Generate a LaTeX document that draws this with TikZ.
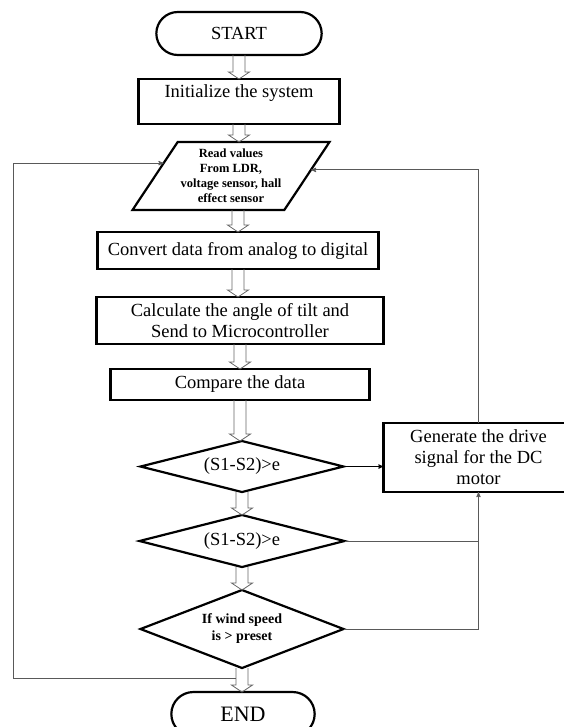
\documentclass[tikz,border=0pt]{standalone}
\usepackage{fontspec}
\setmainfont{Liberation Serif}
\usepackage{tikz}
\usetikzlibrary{arrows,calc,positioning,shapes.geometric,shapes.misc}

\tikzset{
  box/.style={draw, rectangle, line width=2.2pt, outer sep=0pt, align=center,
              font=\fontsize{18.5}{21}\selectfont},
  term/.style={box, rounded rectangle, minimum width=172pt, minimum height=43pt},
  io/.style={draw, trapezium, trapezium left angle=51, trapezium right angle=129,
             trapezium stretches body, line width=2.2pt, outer sep=0pt, minimum width=197pt,
             minimum height=68pt, inner sep=1pt, align=center,
             font=\fontsize{12.5}{15}\selectfont\bfseries},
  test/.style={draw, diamond, line width=2.2pt, outer sep=0pt, inner sep=1pt, align=center,
               font=\fontsize{18.5}{21}\selectfont},
  link/.style={draw=black!65, line width=0.9pt},
  hollow/.style={-, draw=black!60, line width=0.8pt,
    to path={let \p1=(\tikztostart), \p2=(\tikztotarget) in
      (\x1-6pt,\y1) -- (\x1-6pt,\y2+7pt) -- (\x1-10.5pt,\y2+7pt) -- (\x1,\y2)
      -- (\x1+10.5pt,\y2+7pt) -- (\x1+6pt,\y2+7pt) -- (\x1+6pt,\y1)}}
}

\begin{document}
\begin{tikzpicture}[>=stealth']
  \useasboundingbox (0,0) rectangle (563pt,-727pt);

  \node[term]  (start) at (239pt,-33.5pt) {START};
  \node[box, minimum width=201pt, minimum height=45pt, text height=14pt,
        text depth=21pt, inner ysep=5pt] (init) [below=24pt of start] {Initialize the system};
  \node[io]    (read)  [below=18pt of init, xshift=-8pt] {Read values\\From LDR,\\voltage sensor, hall\\effect sensor};
  \node[box, minimum width=281pt, minimum height=37pt] (conv) [below=22pt of read, xshift=7pt] {Convert data from analog to digital};
  \node[box, minimum width=287pt, minimum height=47pt] (tilt) [below=28pt of conv, xshift=2pt] {Calculate the angle of tilt and\\Send to Microcontroller};
  \node[box, minimum width=259pt, minimum height=31pt] (cmp)  [below=25pt of tilt] {Compare the data};
  \node[test, aspect=4, minimum width=203pt, minimum height=51pt] (d1) [below=41pt of cmp, xshift=2pt] {(S1-S2)>e};
  \node[test, aspect=4, minimum width=205pt, minimum height=52pt] (d2) [below=23pt of d1] {(S1-S2)>e};
  \node[test, aspect=2.6, minimum width=203pt, minimum height=78pt,
        font=\fontsize{14}{17}\selectfont\bfseries] (d3) [below=23pt of d2] {If wind speed\\is > preset};
  \node[term, minimum width=150pt, minimum height=44pt,
        font=\fontsize{22}{24}\selectfont] (end) [below=24pt of d3, xshift=1pt] {END};
  \node[box, minimum width=190pt, minimum height=69pt] (gen) [right=40pt of d1, yshift=9pt] {Generate the drive\\signal for the DC\\motor};

  % loop ends
  \coordinate (lin) at ($(read.top left corner)!0.31!(read.bottom left corner)$);
  \coordinate (rin) at ($(read.top right corner)!0.41!(read.bottom right corner)$);
  \coordinate (lp)  at ($(d3.south)+(-6pt,-10pt)$);
  \coordinate (lx)  at (13pt,0);

  \path (start.south)           edge[hollow] (init.north)
        (init.south)            edge[hollow] (read.north)
        (conv.north |- read.south) edge[hollow] (conv.north)
        (conv.south)            edge[hollow] (tilt.north)
        (tilt.south)            edge[hollow] (cmp.north)
        (cmp.south)             edge[hollow] (d1.north)
        (d1.south)              edge[hollow] (d2.north)
        (d2.south)              edge[hollow] (d3.north)
        (d3.south)              edge[hollow] (end.north);

  \draw[->, line width=0.9pt] (d1.east) -- (d1.east -| gen.west);
  \draw[link, ->] (gen.north) |- (rin);
  \draw[link] (d2.east) -- (d2.east -| gen.south);
  \draw[link, ->] (d3.east) -| (gen.south);
  \draw[link, ->] (lp) -- (lp -| lx) |- (lin);
\end{tikzpicture}
\end{document}
